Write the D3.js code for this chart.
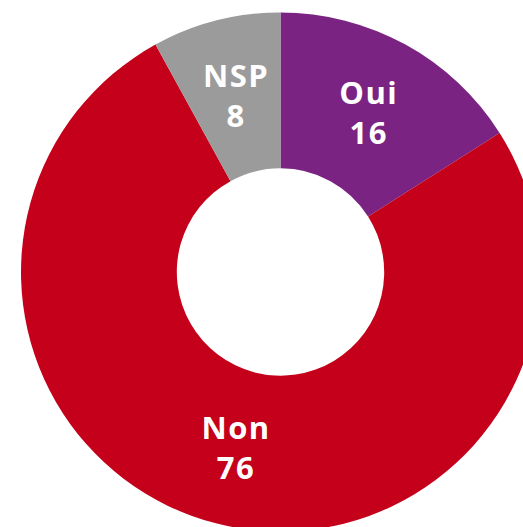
<!DOCTYPE html>
<html><head><meta charset="utf-8">
<script src="https://cdn.jsdelivr.net/npm/d3@7"></script>
<style>html,body{margin:0;padding:0;background:#fff;overflow:hidden}</style>
</head><body>
<svg id="c" width="523" height="527"></svg>
<script>
const categories = ["Oui", "Non", "NSP"];
const values = [16, 76, 8];
const colors = ["#7A2382", "#C4001A", "#9B9B9B"];

const svg = d3.select("#c");
const cx = 280.5, cy = 272, R = 259.5, r = 103.7;
const g = svg.append("g").attr("transform", `translate(${cx},${cy})`);
const data = categories.map((c, i) => ({cat: c, val: values[i], col: colors[i]}));
const pie = d3.pie().value(d => d.val).sort(null);
const arc = d3.arc().innerRadius(r).outerRadius(R);
const arcs = pie(data);
g.selectAll("path").data(arcs).join("path").attr("d", arc).attr("fill", d => d.data.col);
const lab = g.selectAll("text").data(arcs).join("text")
  .attr("transform", d => `translate(${arc.centroid(d)})`)
  .attr("text-anchor", "middle")
  .attr("fill", "#fff")
  .style("font-family", "'Open Sans', sans-serif")
  .style("font-weight", "700")
  .style("font-size", "31px")
  .style("letter-spacing", "1.5px");
lab.append("tspan").attr("x", 0.75).attr("y", -20).attr("dy", "0.36em").text(d => d.data.cat);
lab.append("tspan").attr("x", 0.75).attr("y", 20).attr("dy", "0.36em").text(d => d.data.val);
</script>
</body></html>
